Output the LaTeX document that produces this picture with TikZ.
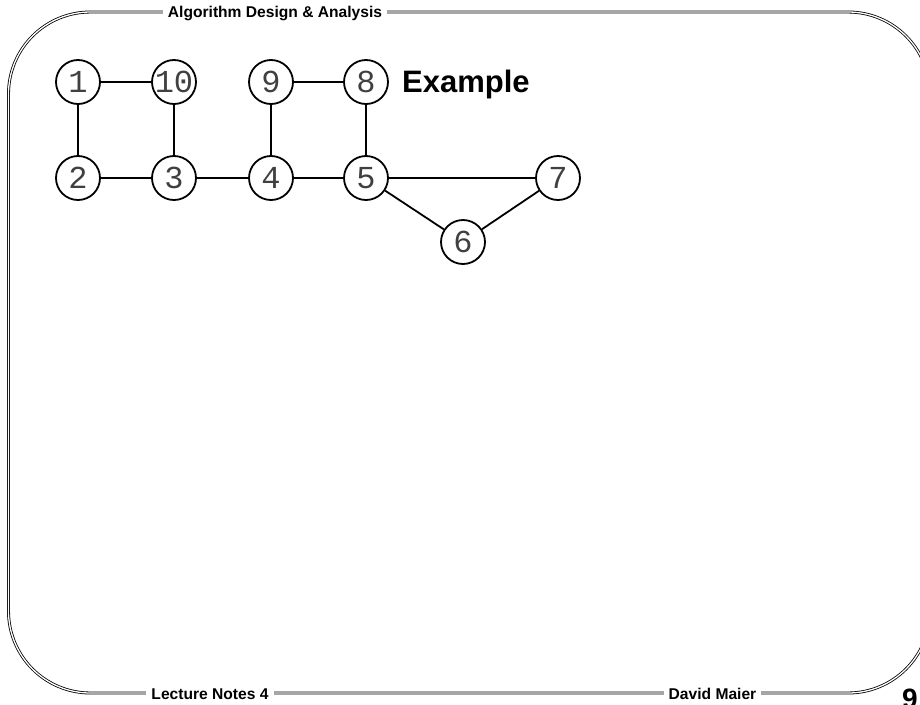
\documentclass[tikz,border=0pt]{standalone}
\usepackage{fontspec}
\setmainfont{Liberation Sans}
\newfontfamily\monofont{Liberation Mono}
\begin{document}
\begin{tikzpicture}[x=1pt,y=-1pt,
  vtx/.style={circle,draw,line width=1.8pt,minimum size=44pt,inner sep=0pt,
    font=\monofont\fontsize{32}{32}\selectfont,text=black!75},
  edge/.style={line width=1.8pt},
  frame/.style={draw=black,line width=0.8pt,double=white,double distance=1.3pt},
  hdr/.style={fill=white,inner xsep=5pt,inner ysep=2pt,font=\bfseries\fontsize{15.6}{16}\selectfont},
]
\useasboundingbox (0,0) rectangle (920,704);
\begin{scope}
\clip (0,0) rectangle (920,704);
\draw[frame,rounded corners=82pt] (8.5,12) rectangle (930,693);
\node[hdr,anchor=base] (title) at (275,17.5) {Algorithm Design \& Analysis};
\node[hdr,anchor=base] (notes) at (210,699.5) {Lecture Notes 4};
\node[hdr,anchor=base] (author) at (712.5,699.5) {David Maier};
\node[anchor=base west,inner sep=0pt,font=\bfseries\fontsize{28}{28}\selectfont] (page) at (902,708) {9};
\node[anchor=base west,inner sep=0pt,font=\bfseries\fontsize{31}{31}\selectfont] (ex) at (402,92) {Example};

\node[vtx] (n1) at (78,82) {\makebox[0pt]{1}};
\node[vtx] (n10) at (174,82) {\makebox[0pt]{10}};
\node[vtx] (n2) at (78,178) {\makebox[0pt]{2}};
\node[vtx] (n3) at (174,178) {\makebox[0pt]{3}};
\node[vtx] (n9) at (271,82) {\makebox[0pt]{9}};
\node[vtx] (n8) at (366,82) {\makebox[0pt]{8}};
\node[vtx] (n4) at (271,178) {\makebox[0pt]{4}};
\node[vtx] (n5) at (366,178) {\makebox[0pt]{5}};
\node[vtx] (n7) at (558,178) {\makebox[0pt]{7}};
\node[vtx] (n6) at (463,242) {\makebox[0pt]{6}};

\draw[edge] (n1) -- (n10);
\draw[edge] (n1) -- (n2);
\draw[edge] (n10) -- (n3);
\draw[edge] (n2) -- (n3);
\draw[edge] (n3) -- (n4);
\draw[edge] (n9) -- (n8);
\draw[edge] (n9) -- (n4);
\draw[edge] (n8) -- (n5);
\draw[edge] (n4) -- (n5);
\draw[edge] (n5) -- (n7);
\draw[edge] (n5) -- (n6);
\draw[edge] (n6) -- (n7);
\end{scope}
\end{tikzpicture}
\end{document}
